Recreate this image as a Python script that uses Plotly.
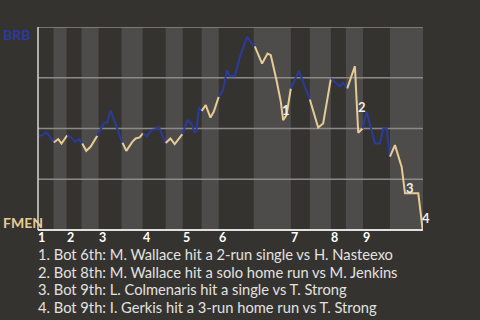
import plotly.graph_objects as go

# Game progress (x) and BRB win probability (y), one list per half-inning
half_x = [
    [0.2, 4.2, 8.2, 11.5, 15.8],                       # top 1
    [15.8, 20.2, 23.5, 29.2],                           # bot 1
    [29.2, 33.2, 37.5, 40.8, 44.2],                     # top 2
    [44.2, 48.2, 52.5, 59.2],                           # bot 2
    [59.2, 59.8, 65.8, 69.2, 72.5, 76.8, 80.8, 84.2],   # top 3
    [84.2, 84.8, 88.2, 94.2, 97.5, 101.5, 104.8],       # bot 3
    [104.8, 108.8, 113.2, 118.2, 120.5, 123.2, 127.5],  # top 4
    [127.5, 132.2, 136.5, 139.8, 144.2],                # bot 4
    [144.2, 149.2, 153.2, 156.5, 158.2, 160.8, 163.5],  # top 5
    [163.5, 167.5, 172.2, 175.5, 180.5],                # bot 5
    [180.5, 184.8, 188.8, 191.5, 196.5, 201.5, 208.8, 214.8, 216.5],  # top 6
    [216.5, 223.8, 229.2, 232.5, 238.2, 242.5, 244.8, 248.2, 252.5],  # bot 6
    [252.5, 260.5, 271.5],                              # top 7
    [271.5, 279.8, 284.8, 292.5],                       # bot 7
    [292.5, 301.5, 304.8, 308.8],                       # top 8
    [308.8, 316.5, 318.2, 319.8, 324.2],                # bot 8
    [324.2, 328.2, 336.5, 341.5, 344.8, 348.2, 351.5],  # top 9
    [351.5, 356.5, 363.2, 366.5, 379.8, 383.2, 384.2],  # bot 9
]
half_y = [
    [0.462, 0.467, 0.481, 0.462, 0.431],
    [0.431, 0.448, 0.426, 0.467],
    [0.467, 0.456, 0.434, 0.448, 0.426],
    [0.426, 0.390, 0.410, 0.464],
    [0.464, 0.472, 0.525, 0.530, 0.590, 0.533, 0.476, 0.429],
    [0.429, 0.426, 0.390, 0.434, 0.451, 0.456, 0.476],
    [0.476, 0.462, 0.492, 0.498, 0.508, 0.476, 0.429],
    [0.429, 0.451, 0.423, 0.446, 0.472],
    [0.472, 0.541, 0.525, 0.479, 0.492, 0.604, 0.587],
    [0.587, 0.615, 0.554, 0.582, 0.656],
    [0.656, 0.689, 0.787, 0.757, 0.757, 0.852, 0.951, 0.910, 0.905],
    [0.905, 0.820, 0.869, 0.861, 0.738, 0.631, 0.541, 0.566, 0.697],
    [0.697, 0.784, 0.643],
    [0.643, 0.505, 0.525, 0.746],
    [0.746, 0.708, 0.725, 0.697],
    [0.697, 0.807, 0.639, 0.479, 0.500],
    [0.500, 0.582, 0.426, 0.426, 0.500, 0.500, 0.361],
    [0.361, 0.418, 0.311, 0.181, 0.181, 0.049, 0.0],
]

# Half-inning boundaries (game progress units)
half_edges = [0, 15.5, 28.5, 43.5, 60.5, 83.5, 104.5, 127.5, 144.5, 163.5,
              180.5, 215.5, 252.5, 271.5, 292.5, 307.5, 324.5, 351.5, 384.5]
innings = ["1", "2", "3", "4", "5", "6", "7", "8", "9"]

# Key plays
key_x = [247.2, 323.2, 371.5, 387.5]
key_y = [0.590, 0.604, 0.205, 0.058]
key_labels = ["1", "2", "3", "4"]
key_text = [
    "1. Bot 6th: M. Wallace hit a 2-run single vs H. Nasteexo",
    "2. Bot 8th: M. Wallace hit a solo home run vs M. Jenkins",
    "3. Bot 9th: L. Colmenaris hit a single vs T. Strong",
    "4. Bot 9th: I. Gerkis hit a 3-run home run vs T. Strong",
]

X_MAX = 384.5
BG = "#35332f"
BAND = "#4e4c4a"
BLUE = "#2a3b9c"
GOLD = "#e6cc94"
FONT = "Lato"

fig = go.Figure()

shapes = []
for i in range(0, len(half_edges) - 1):
    if i % 2 == 1:
        shapes.append(dict(type="rect", xref="x", yref="paper",
                           x0=half_edges[i], x1=half_edges[i + 1], y0=0, y1=1,
                           fillcolor=BAND, line_width=0, layer="below"))
for v in [0.25, 0.5, 0.75, 1.0]:
    shapes.append(dict(type="line", xref="paper", yref="y", x0=0, x1=1, y0=v, y1=v,
                       line=dict(color="#8c8a88", width=1.5), layer="below"))
shapes.append(dict(type="line", xref="paper", yref="paper", x0=0, x1=0, y0=0, y1=1,
                   line=dict(color="#d8d8d8", width=1.5)))
shapes.append(dict(type="line", xref="paper", yref="paper", x0=0, x1=1, y0=0, y1=0,
                   line=dict(color="#e0e0e0", width=2)))

for i, (xs, ys) in enumerate(zip(half_x, half_y)):
    fig.add_trace(go.Scatter(x=xs, y=ys, mode="lines",
                             line=dict(color=BLUE if i % 2 == 0 else GOLD, width=2),
                             hoverinfo="skip", showlegend=False))

ann = []
for k, lab in enumerate(innings):
    ann.append(dict(x=half_edges[2 * k], y=0, xref="x", yref="paper",
                    text="<b>%s</b>" % lab, showarrow=False, xanchor="left",
                    yanchor="middle", yshift=-7.5, xshift=-1, borderpad=0,
                    font=dict(family=FONT, size=12.5, color="#ffffff")))
for x, y, lab in zip(key_x, key_y, key_labels):
    ann.append(dict(x=x / X_MAX, y=y, xref="paper", yref="y", text="<b>%s</b>" % lab,
                    showarrow=False, xanchor="center", yanchor="middle",
                    font=dict(family=FONT, size=13, color="#eeeeee")))
for j, t in enumerate(key_text):
    ann.append(dict(x=0, y=0, xref="paper", yref="paper", text=t, showarrow=False,
                    xanchor="left", yanchor="middle", yshift=-24.3 - 17.5 * j, xshift=-1,
                    borderpad=0,
                    font=dict(family=FONT, size=14.7, color="#e2e2e2")))
ann.append(dict(x=-36.5 / X_MAX, y=1, xref="paper", yref="paper", text="<b>BRB</b>",
                showarrow=False, xanchor="left", yanchor="middle", yshift=-7.5,
                font=dict(family=FONT, size=14, color=BLUE)))
ann.append(dict(x=-36.5 / X_MAX, y=0, xref="paper", yref="paper", text="<b>FMEN</b>",
                showarrow=False, xanchor="left", yanchor="middle", yshift=7.5,
                font=dict(family=FONT, size=14, color=GOLD)))

fig.update_layout(
    width=480, height=320,
    margin=dict(l=38, r=57, t=27, b=90),
    paper_bgcolor=BG, plot_bgcolor=BG,
    shapes=shapes, annotations=ann,
    xaxis=dict(range=[0, X_MAX], showgrid=False, zeroline=False, showticklabels=False,
               fixedrange=True),
    yaxis=dict(range=[0, 1], showgrid=False, zeroline=False, showticklabels=False,
               fixedrange=True),
    showlegend=False,
)

fig.write_html("out.html", config={"displayModeBar": False})
